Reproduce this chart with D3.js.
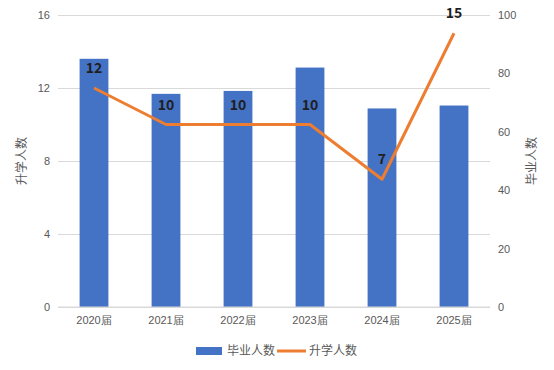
<!DOCTYPE html>
<html>
<head>
<meta charset="utf-8">
<script src="https://cdn.jsdelivr.net/npm/d3@7"></script>
<style>
  body { margin: 0; background: #fff; }
  svg { font-family: "Noto Sans CJK SC", "Noto Sans", sans-serif; }
  .axis text { fill: #595959; font-size: 11px; }
  .axis path, .axis line { display: none; }
  .grid line { stroke: #d9d9d9; stroke-width: 1; }
  .grid path { display: none; }
  .value { font-size: 14px; font-weight: bold; fill: #1f1f1f; }
  .legend text, .axis-title { fill: #595959; font-size: 12px; }
</style>
</head>
<body>
<div id="chart"></div>
<script>
// Data
var categories = ["2020届", "2021届", "2022届", "2023届", "2024届", "2025届"];
var graduates = [85, 73, 74, 82, 68, 69];   // 毕业人数 (right axis)
var enrolled = [12, 10, 10, 10, 7, 15];     // 升学人数 (left axis)
var leftTicks = [0, 4, 8, 12, 16];
var rightTicks = [0, 20, 40, 60, 80, 100];

var width = 554, height = 370;
var margins = { top: 15, right: 64, bottom: 63, left: 58 };
var chartWidth = width - margins.left - margins.right;
var chartHeight = height - margins.top - margins.bottom;

var svg = d3.select("#chart").append("svg")
  .attr("width", width)
  .attr("height", height);

var chartElement = svg.append("g")
  .attr("transform", `translate(${margins.left},${margins.top})`);

var xScale = d3.scaleBand()
  .domain(categories)
  .range([0, chartWidth])
  .paddingInner(0.6)
  .paddingOuter(0.3);

var yLeft = d3.scaleLinear().domain([0, 16]).range([chartHeight, 0]);
var yRight = d3.scaleLinear().domain([0, 100]).range([chartHeight, 0]);

// Grid
chartElement.append("g")
  .attr("class", "grid")
  .call(d3.axisLeft(yLeft).tickValues(leftTicks).tickSize(-chartWidth).tickFormat(""));

// Axes
chartElement.append("g")
  .attr("class", "axis y-left")
  .call(d3.axisLeft(yLeft).tickValues(leftTicks).tickSize(0).tickPadding(8));

chartElement.append("g")
  .attr("class", "axis y-right")
  .attr("transform", `translate(${chartWidth},0)`)
  .call(d3.axisRight(yRight).tickValues(rightTicks).tickSize(0).tickPadding(8));

chartElement.append("g")
  .attr("class", "axis x")
  .attr("transform", `translate(0,${chartHeight})`)
  .call(d3.axisBottom(xScale).tickSize(0).tickPadding(9));

// Bars
chartElement.append("g")
  .selectAll("rect")
  .data(categories)
  .enter()
  .append("rect")
  .attr("x", d => xScale(d))
  .attr("y", (d, i) => yRight(graduates[i]))
  .attr("width", xScale.bandwidth())
  .attr("height", (d, i) => yRight(0) - yRight(graduates[i]))
  .attr("fill", "#4472c4");

// bottom axis line
chartElement.append("line")
  .attr("x1", 0).attr("x2", chartWidth)
  .attr("y1", chartHeight).attr("y2", chartHeight)
  .attr("stroke", "#d9d9d9");

// Line
var line = d3.line()
  .x((d, i) => xScale(categories[i]) + xScale.bandwidth() / 2)
  .y(d => yLeft(d));

chartElement.append("path")
  .datum(enrolled)
  .attr("d", line)
  .attr("fill", "none")
  .attr("stroke", "#ed7d31")
  .attr("stroke-width", 3)
  .attr("stroke-linejoin", "round");

// Values
chartElement.append("g")
  .selectAll("text")
  .data(enrolled)
  .enter()
  .append("text")
  .attr("class", "value")
  .attr("x", (d, i) => xScale(categories[i]) + xScale.bandwidth() / 2)
  .attr("y", d => yLeft(d) - 15)
  .attr("text-anchor", "middle")
  .text(d => d);

// Axis titles
svg.append("text")
  .attr("class", "axis-title")
  .attr("transform", `translate(26,${margins.top + chartHeight / 2}) rotate(-90)`)
  .attr("text-anchor", "middle")
  .text("升学人数");

svg.append("text")
  .attr("class", "axis-title")
  .attr("transform", `translate(536,${margins.top + chartHeight / 2}) rotate(-90)`)
  .attr("text-anchor", "middle")
  .text("毕业人数");

// Legend
var legend = svg.append("g").attr("class", "legend")
  .attr("transform", "translate(196,351)");
legend.append("rect")
  .attr("x", 0).attr("y", -4)
  .attr("width", 26).attr("height", 8)
  .attr("fill", "#4472c4");
legend.append("text")
  .attr("x", 31).attr("y", 4)
  .text("毕业人数");
legend.append("line")
  .attr("x1", 81).attr("x2", 110)
  .attr("y1", 0).attr("y2", 0)
  .attr("stroke", "#ed7d31")
  .attr("stroke-width", 3);
legend.append("text")
  .attr("x", 113).attr("y", 4)
  .text("升学人数");
</script>
</body>
</html>
